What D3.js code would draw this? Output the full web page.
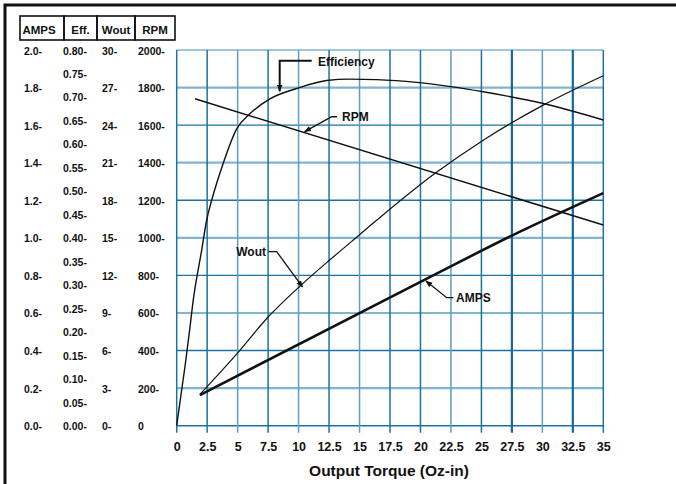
<!DOCTYPE html>
<html>
<head>
<meta charset="utf-8">
<script src="https://cdn.jsdelivr.net/npm/d3@7"></script>
<style>
  body { margin: 0; background: #fff; }
  svg { font-family: "Liberation Sans", Arial, sans-serif; }
</style>
</head>
<body>
<script>
// tick labels
var torqueTicks = [0, 2.5, 5, 7.5, 10, 12.5, 15, 17.5, 20, 22.5, 25, 27.5, 30, 32.5, 35];
var ampsTicks = [0, 0.2, 0.4, 0.6, 0.8, 1.0, 1.2, 1.4, 1.6, 1.8, 2.0];
var effTicks = [0, 0.05, 0.10, 0.15, 0.20, 0.25, 0.30, 0.35, 0.40, 0.45, 0.50, 0.55, 0.60, 0.65, 0.70, 0.75, 0.80];
var woutTicks = [0, 3, 6, 9, 12, 15, 18, 21, 24, 27, 30];
var rpmTicks = [0, 200, 400, 600, 800, 1000, 1200, 1400, 1600, 1800, 2000];
var headers = ["AMPS", "Eff.", "Wout", "RPM"];

// series (torque in Oz-in)
var rpmTorque = [1.5, 35];
var rpmValues = [1740, 1068];

var ampsTorque = [1.9, 20.2, 27.5, 35];
var ampsValues = [0.163, 0.772, 1.012, 1.238];

var woutTorque = [1.9, 4.97, 7.52, 10.06, 12.55, 14.36, 16.4, 21.2, 25.15, 30.07, 35];
var woutValues = [2.5, 5.78, 8.7, 11.1, 13.23, 14.72, 16.4, 20.15, 22.8, 25.6, 27.95];

var effTorque = [0, 0.68, 1.03, 1.36, 2.05, 2.46, 2.87, 3.82, 4.92, 6.0, 7.65, 9.84, 12.3, 14.2, 16.4, 19.7, 22.5, 25.15, 30.07, 35];
var effValues = [0, 0.126, 0.197, 0.268, 0.374, 0.438, 0.48, 0.559, 0.632, 0.664, 0.696, 0.718, 0.735, 0.738, 0.737, 0.731, 0.722, 0.711, 0.686, 0.651];

var svg = d3.select("body").append("svg")
    .attr("width", 676)
    .attr("height", 484);

// outer frame (top and left edges only visible)
svg.append("path")
    .attr("d", "M5,484V5H676")
    .attr("fill", "none")
    .attr("stroke", "#111")
    .attr("stroke-width", 3);

var margin = {left: 176.7, top: 50},
    width = 426.6,
    height = 375.7;

var x = d3.scaleLinear().domain([0, 35]).range([0, width]);
var yRpm = d3.scaleLinear().domain([0, 2000]).range([height, 0]);
var yAmps = d3.scaleLinear().domain([0, 2]).range([height, 0]);
var yEff = d3.scaleLinear().domain([0, 0.8]).range([height, 0]);
var yWout = d3.scaleLinear().domain([0, 30]).range([height, 0]);

var g = svg.append("g")
    .attr("transform", "translate(" + margin.left + "," + margin.top + ")");

var darkBlue = "#1c73a1", lightBlue = "#80b6cd";

// grid
var lightV = [5, 10, 15, 22.5, 30];
var thickV = [27.5, 32.5];
g.append("g").selectAll("line").data(rpmTicks).enter().append("line")
    .attr("x1", 0).attr("x2", width)
    .attr("y1", function(d) { return yRpm(d); })
    .attr("y2", function(d) { return yRpm(d); })
    .attr("stroke", function(d) { return (d / 200) % 2 == 1 || d == 2000 ? lightBlue : darkBlue; })
    .attr("stroke-width", function(d) { return (d / 200) % 2 == 1 ? 2.2 : 1.4; });

g.append("g").selectAll("line").data(torqueTicks).enter().append("line")
    .attr("y1", 0).attr("y2", height + 7)
    .attr("x1", function(d) { return x(d); })
    .attr("x2", function(d) { return x(d); })
    .attr("stroke", function(d) {
        if (thickV.indexOf(d) >= 0) return "#176892";
        return lightV.indexOf(d) >= 0 ? "#5c9fc0" : darkBlue;
    })
    .attr("stroke-width", function(d) { return thickV.indexOf(d) >= 0 ? 2.2 : 1.5; });

// bottom axis labels
var xAxis = g.append("g")
    .attr("transform", "translate(0," + height + ")")
    .call(d3.axisBottom(x).tickValues(torqueTicks).tickSize(0).tickFormat(function(d) { return d; }));
xAxis.select(".domain").remove();
xAxis.selectAll("text")
    .attr("y", 25)
    .attr("dy", null)
    .attr("fill", "#111")
    .style("font-size", "12.5px")
    .style("font-weight", "bold")
    .style("font-family", "'Liberation Sans', Arial, sans-serif");

svg.append("text")
    .attr("x", margin.left + x(17.5) - 1)
    .attr("y", 476)
    .attr("text-anchor", "middle")
    .attr("font-size", "15.5px")
    .attr("font-weight", "bold")
    .attr("fill", "#111")
    .text("Output Torque (Oz-in)");

// header boxes
var headerEdges = [20, 64, 97, 135, 175];
var hdr = svg.append("g");
hdr.selectAll("rect").data(headers).enter().append("rect")
    .attr("x", function(d, i) { return headerEdges[i]; })
    .attr("y", 16)
    .attr("width", function(d, i) { return headerEdges[i + 1] - headerEdges[i]; })
    .attr("height", 24)
    .attr("fill", "none")
    .attr("stroke", "#111")
    .attr("stroke-width", 1.6);
hdr.selectAll("text").data(headers).enter().append("text")
    .attr("x", function(d, i) { return (headerEdges[i] + headerEdges[i + 1]) / 2 - (i == 0 ? 3 : 0); })
    .attr("y", 34)
    .attr("text-anchor", "middle")
    .attr("font-size", "11.5px")
    .attr("font-weight", "bold")
    .attr("fill", "#111")
    .text(function(d) { return d; });

// left scale columns
function column(ticks, scale, xPos, fmt) {
    svg.append("g").selectAll("text").data(ticks).enter().append("text")
        .attr("x", xPos)
        .attr("y", function(d) { return margin.top + scale(d) + 4.5; })
        .attr("font-size", "10.5px")
        .attr("font-weight", "bold")
        .attr("fill", "#111")
        .text(fmt);
}
column(ampsTicks, yAmps, 24, function(d) { return d.toFixed(1) + "-"; });
column(effTicks, yEff, 63, function(d) { return d.toFixed(2) + "-"; });
column(woutTicks, yWout, 102, function(d) { return d + "-"; });
column(rpmTicks, yRpm, 138, function(d) { return d == 0 ? "0" : d + "-"; });

// curves
var curves = [
    {t: rpmTorque, v: rpmValues, y: yRpm, w: 1.5},
    {t: woutTorque, v: woutValues, y: yWout, w: 1.2},
    {t: effTorque, v: effValues, y: yEff, w: 1.4},
    {t: ampsTorque, v: ampsValues, y: yAmps, w: 2.6}
];
curves.forEach(function(c) {
    var line = d3.line()
        .x(function(d, i) { return x(c.t[i]); })
        .y(function(d) { return c.y(d); })
        .curve(d3.curveMonotoneX);
    g.append("path")
        .datum(c.v)
        .attr("d", line)
        .attr("fill", "none")
        .attr("stroke", "#111")
        .attr("stroke-width", c.w);
});

// callouts
svg.append("defs").append("marker")
    .attr("id", "arr")
    .attr("viewBox", "0 0 10 10")
    .attr("refX", 9).attr("refY", 5)
    .attr("markerWidth", 7).attr("markerHeight", 7)
    .attr("markerUnits", "userSpaceOnUse")
    .attr("orient", "auto")
    .append("path")
    .attr("d", "M0,1L10,5L0,9Z")
    .attr("fill", "#111");

function callout(tipX, tipY, pts, label, lx, ly, anchor, w) {
    var p = [[tipX, tipY]].concat(pts);
    svg.append("path")
        .attr("d", d3.line()(p.slice().reverse()))
        .attr("fill", "none")
        .attr("stroke", "#111")
        .attr("stroke-width", w)
        .attr("marker-end", "url(#arr)");
    svg.append("text")
        .attr("x", lx).attr("y", ly)
        .attr("text-anchor", anchor)
        .attr("font-size", "12px")
        .attr("font-weight", "bold")
        .attr("fill", "#111")
        .text(label);
}
var ex = margin.left + x(8.45), ey = margin.top + yEff(0.708);
callout(ex, ey - 2, [[ex, 60.7], [ex + 32, 60.7]], "Efficiency", 318, 66, "start", 2);
var rx = margin.left + x(10.5), ry = margin.top + yRpm(1560);
callout(rx, ry - 1, [[331.7, 116.7], [337, 116.7]], "RPM", 342, 121, "start", 1.5);
var wx = margin.left + x(10.4), wy = margin.top + yWout(11.0);
callout(wx - 1, wy - 1, [[276.7, 251.7], [268.3, 251.7]], "Wout", 266, 256, "end", 1.3);
var ax = margin.left + x(20.37), ay = margin.top + yAmps(0.775);
callout(ax + 1, ay + 1, [[446.7, 297.7], [453.3, 297.7]], "AMPS", 456, 302, "start", 1.3);
</script>
</body>
</html>
